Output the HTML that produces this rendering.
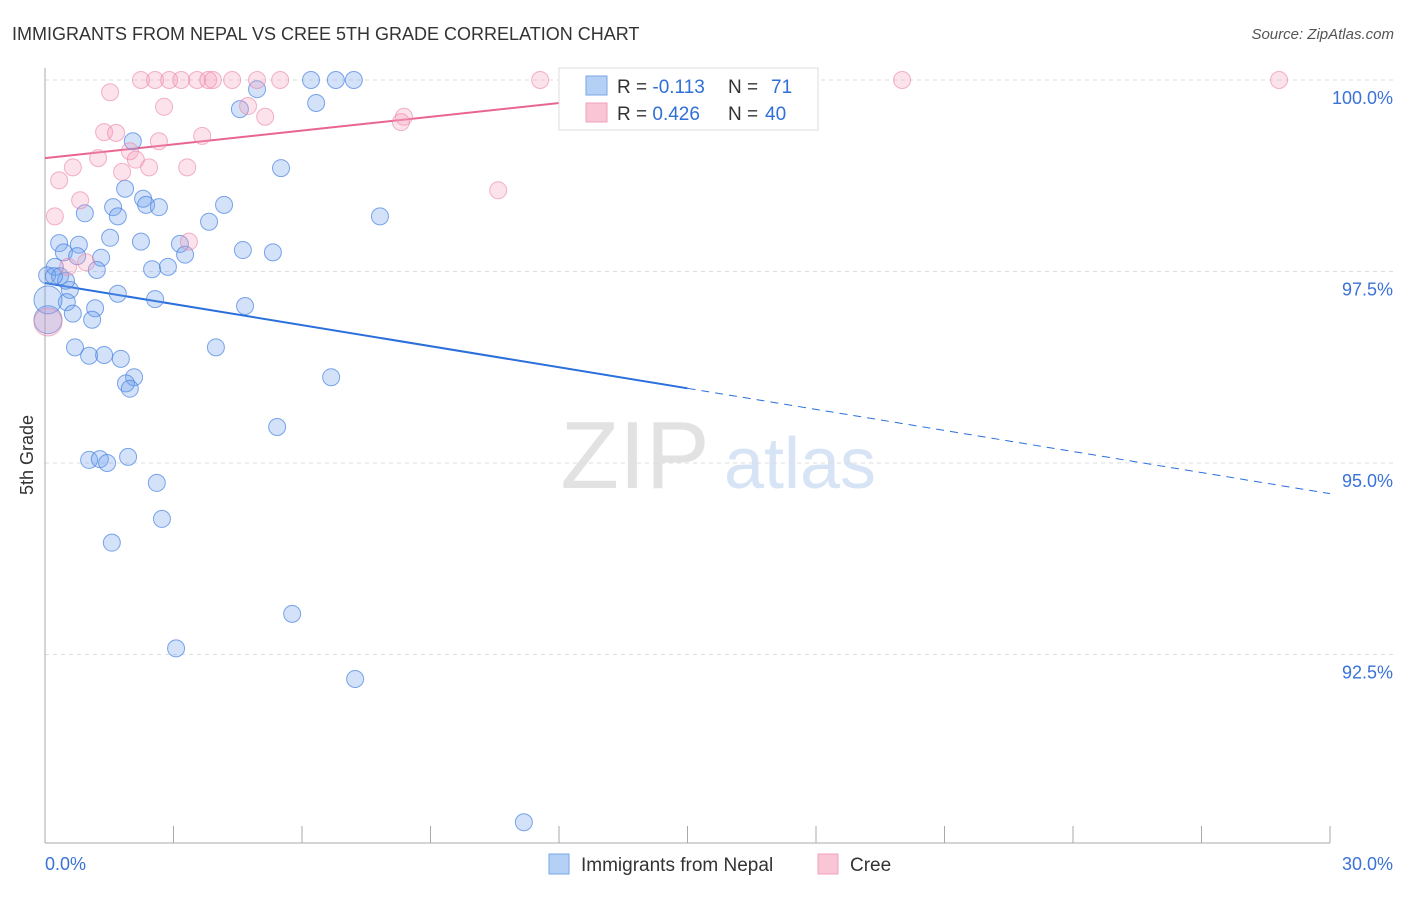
<!DOCTYPE html>
<html><head><meta charset="utf-8"><style>
body{margin:0;background:#fff;font-family:"Liberation Sans",sans-serif;}
svg text{font-family:"Liberation Sans",sans-serif;}
</style></head><body>
<svg id="chart" width="1406" height="892" xmlns="http://www.w3.org/2000/svg">
<text x="12" y="40" font-size="18" fill="#333">IMMIGRANTS FROM NEPAL VS CREE 5TH GRADE CORRELATION CHART</text>
<text x="1394" y="39" font-size="15" fill="#555" text-anchor="end" font-style="italic">Source: ZipAtlas.com</text>
<text transform="translate(33,455) rotate(-90)" font-size="18" fill="#333" text-anchor="middle">5th Grade</text>
<g>
<text x="635" y="488" font-size="96" font-family="Liberation Serif" fill="#e2e2e2" text-anchor="middle">ZIP</text>
<text x="800" y="488" font-size="72" fill="#d6e4f5" text-anchor="middle">atlas</text>
</g>
<g id="grid"></g><g id="axes"></g><g id="trend"></g><g id="pts"></g>
<g>
<rect x="559" y="68" width="259" height="62" fill="#fff" stroke="#ddd"/>
<rect x="586" y="76" width="21" height="19" fill="#b5d0f5" stroke="#7aa6e6"/>
<rect x="586" y="103" width="21" height="19" fill="#f9c6d5" stroke="#f0a0b8"/>
<text x="617" y="93" font-size="19" fill="#333">R = <tspan fill="#2f6fd6">-0.113</tspan><tspan x="728">N = </tspan><tspan x="771" fill="#2f6fd6">71</tspan></text>
<text x="617" y="120" font-size="19" fill="#333">R = <tspan fill="#2f6fd6">0.426</tspan><tspan x="728">N = </tspan><tspan x="765" fill="#2f6fd6">40</tspan></text>
</g>
<g>
<rect x="549" y="854" width="20" height="20" fill="#b5d0f5" stroke="#7aa6e6"/>
<text x="581" y="871" font-size="19" fill="#333">Immigrants from Nepal</text>
<rect x="818" y="854" width="20" height="20" fill="#f9c6d5" stroke="#f0a0b8"/>
<text x="850" y="871" font-size="19" fill="#333">Cree</text>
</g>
</svg>
<script>
const yTicks=[100,97.5,95,92.5];
const yTickLabels=["100.0%","97.5%","95.0%","92.5%"];
const xTickLabels=["0.0%","30.0%"];
const blueX=[6.21,6.79,7.21,4.95,4.55,6.33,2.05,5.51,1.87,2.29,1.59,2.36,2.66,4.18,0.93,1.70,3.83,7.82,0.33,1.52,2.24,3.15,0.79,0.44,4.62,5.32,1.31,3.27,2.50,2.87,0.23,1.21,0.05,0.35,0.58,1.70,2.57,0.51,1.17,4.67,0.65,1.10,0.70,1.03,1.38,1.77,3.99,2.08,1.89,1.98,6.68,5.42,1.03,1.28,1.45,1.94,2.61,2.73,1.56,5.77,3.06,7.24,11.18,0.49,0.21,0.75,0.07,0.07];
const blueY=[100,100,100,99.88,99.62,99.70,99.20,98.85,98.58,98.45,98.34,98.37,98.34,98.37,98.26,98.22,98.15,98.22,97.87,97.94,97.89,97.86,97.85,97.75,97.78,97.75,97.68,97.72,97.53,97.56,97.56,97.52,97.45,97.44,97.26,97.21,97.14,97.10,97.02,97.05,96.95,96.87,96.51,96.40,96.41,96.36,96.51,96.12,96.04,95.97,96.12,95.47,95.04,95.05,95.00,95.08,94.74,94.27,93.96,93.03,92.58,92.18,90.31,97.38,97.44,97.70,96.87,97.13];
const pinkX=[2.24,2.57,2.90,3.18,3.55,3.81,3.92,4.37,4.95,5.49,11.56,14.27,20.01,28.81,1.52,2.78,4.74,5.14,8.38,8.31,1.38,1.66,3.67,2.66,1.98,1.24,2.12,0.65,2.43,3.32,1.80,0.33,10.58,0.82,0.23,3.36,0.96,0.54,0.07];
const pinkY=[100,100,100,100,100,100,100,100,100,100,100,100,100,100,99.84,99.65,99.66,99.52,99.52,99.45,99.32,99.31,99.27,99.20,99.07,98.98,98.96,98.86,98.86,98.86,98.80,98.69,98.56,98.43,98.22,97.89,97.62,97.56,96.84];
const blueTrend=[97.35,94.60]; // at x=0 and x=30
const pinkTrend=[98.98,100];   // at x=0 and x=pinkEnd
const pinkEnd=17;
const blueSolidEnd=15;
const X=p=>45+p/30*1285;
const Y=v=>80+(100-v)/2.5*191.5;
const NS="http://www.w3.org/2000/svg";
function mk(tag,attrs,parent){const e=document.createElementNS(NS,tag);for(const k in attrs)e.setAttribute(k,attrs[k]);parent.appendChild(e);return e;}
const grid=document.getElementById('grid'),axes=document.getElementById('axes');
yTicks.forEach((t,i)=>{
 const l=mk('line',{x1:45,x2:1394,y1:Y(t),y2:Y(t),stroke:'#ddd','stroke-dasharray':'4,4'},grid);
 
 
 const tx=mk('text',{x:1393,y:Y(t)+24,'font-size':18,fill:'#3a72d6','text-anchor':'end'},axes);
 tx.textContent=yTickLabels[i];
 
 
});
const ya=mk('line',{x1:45,x2:45,y1:68,y2:843,stroke:'#aaa'},axes);


const xa=mk('line',{x1:45,x2:1330,y1:843,y2:843,stroke:'#aaa'},axes);


for(let p=0;p<=30;p+=3){
 const tk=mk('line',{x1:X(p),x2:X(p),y1:826,y2:843,stroke:'#aaa'},axes);
 
 
}
[[0,'start',45],[30,'end',1393]].forEach((a,i)=>{
 const t=mk('text',{x:a[2],y:870,'font-size':18,fill:'#3a72d6','text-anchor':a[1]},axes);
 t.textContent=xTickLabels[i];
 
 
});
const pts=document.getElementById('pts');
function dots(xs,ys,fill,stroke,name){
 xs.forEach((x,i)=>{
  const big=(x<0.1&&ys[i]<97.2);
  const c=mk('circle',{cx:X(x),cy:Y(ys[i]),r:big?14:8.5,fill:fill,stroke:stroke,'stroke-width':1},pts);
  
  
 });
}
dots(blueX,blueY,'rgba(110,160,235,0.3)','rgba(70,130,225,0.7)','nepal-point');
dots(pinkX,pinkY,'rgba(245,160,190,0.3)','rgba(235,130,165,0.6)','cree-point');
const tr=document.getElementById('trend');
const bAt=p=>blueTrend[0]+(blueTrend[1]-blueTrend[0])*p/30;
const l1=mk('line',{x1:X(0),y1:Y(bAt(0)),x2:X(blueSolidEnd),y2:Y(bAt(blueSolidEnd)),stroke:'#2a6fdb','stroke-width':2},tr);


const l2=mk('line',{x1:X(blueSolidEnd),y1:Y(bAt(blueSolidEnd)),x2:X(30),y2:Y(bAt(30)),stroke:'#2a6fdb','stroke-width':1,'stroke-dasharray':'8,6'},tr);


const l3=mk('line',{x1:X(0),y1:Y(pinkTrend[0]),x2:X(pinkEnd),y2:Y(pinkTrend[1]),stroke:'#e8658f','stroke-width':2},tr);


</script>
</body></html>
